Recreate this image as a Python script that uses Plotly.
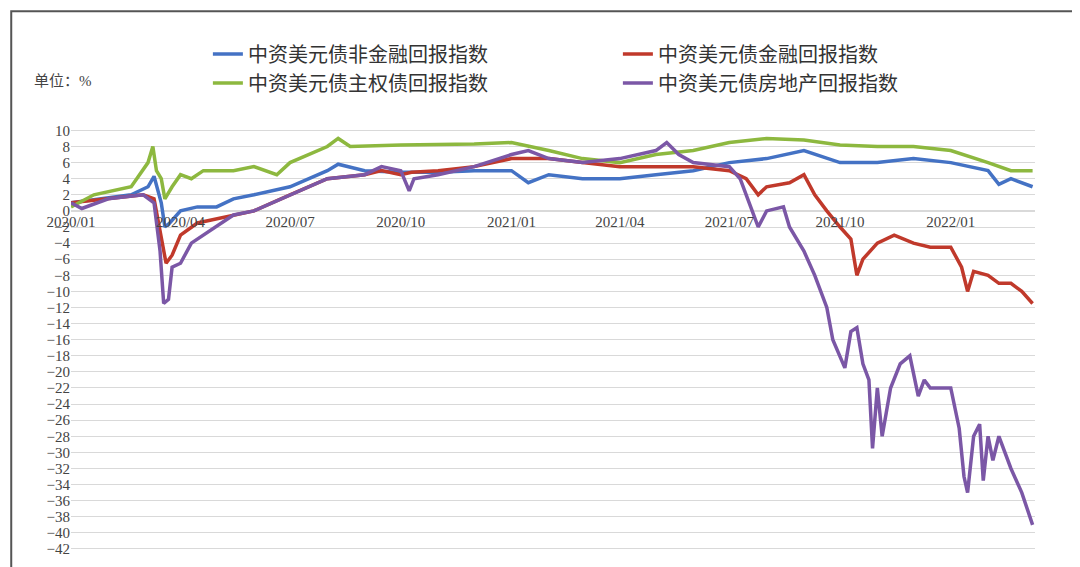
import plotly.graph_objects as go

names = ["中资美元债非金融回报指数", "中资美元债金融回报指数", "中资美元债主权债回报指数", "中资美元债房地产回报指数"]
colors = ["#4472C4", "#C0392B", "#8DB83F", "#7B57A6"]

blue_x = ["2020-01-01","2020-02-20","2020-03-05","2020-03-10","2020-03-16","2020-03-19","2020-03-23","2020-04-01","2020-04-15","2020-05-01","2020-05-15","2020-06-01","2020-07-01","2020-08-01","2020-08-10","2020-09-01","2020-10-01","2020-11-01","2020-12-01","2021-01-01","2021-01-15","2021-02-01","2021-03-01","2021-04-01","2021-05-01","2021-06-01","2021-07-01","2021-08-01","2021-09-01","2021-10-01","2021-11-01","2021-12-01","2022-01-01","2022-02-01","2022-02-10","2022-02-20","2022-03-10"]
blue_y = [1,2,3,4.3,1,-2,-1.5,0,0.5,0.5,1.5,2,3,5,5.8,5,4.8,4.8,5,5,3.5,4.5,4,4,4.5,5,6,6.5,7.5,6,6,6.5,6,5,3.3,4,3]

red_x = ["2020-01-01","2020-03-01","2020-03-10","2020-03-16","2020-03-20","2020-03-25","2020-04-01","2020-04-15","2020-05-01","2020-06-01","2020-07-01","2020-08-01","2020-09-01","2020-09-15","2020-10-01","2020-10-10","2020-11-01","2020-12-01","2021-01-01","2021-02-01","2021-03-01","2021-04-01","2021-05-01","2021-06-01","2021-07-01","2021-07-15","2021-07-25","2021-08-01","2021-08-20","2021-09-01","2021-09-10","2021-09-20","2021-10-01","2021-10-10","2021-10-15","2021-10-20","2021-11-01","2021-11-15","2021-12-01","2021-12-15","2022-01-01","2022-01-10","2022-01-15","2022-01-20","2022-02-01","2022-02-10","2022-02-20","2022-03-01","2022-03-10"]
red_y = [1,2,1.5,-3,-6.5,-5.5,-3,-1.5,-1,0,2,4,4.5,5,4.5,4.8,5,5.5,6.5,6.5,6,5.5,5.5,5.5,5,4,2,3,3.5,4.5,2,0,-2,-3.5,-8,-6,-4,-3,-4,-4.5,-4.5,-7,-10,-7.5,-8,-9,-9,-10,-11.5]

green_x = ["2020-01-01","2020-01-20","2020-02-20","2020-03-05","2020-03-09","2020-03-12","2020-03-16","2020-03-19","2020-03-25","2020-04-01","2020-04-10","2020-04-20","2020-05-15","2020-06-01","2020-06-20","2020-07-01","2020-08-01","2020-08-10","2020-08-20","2020-10-01","2020-12-01","2021-01-01","2021-02-01","2021-03-01","2021-04-01","2021-05-01","2021-06-01","2021-07-01","2021-08-01","2021-09-01","2021-10-01","2021-11-01","2021-12-01","2022-01-01","2022-02-01","2022-02-10","2022-02-20","2022-03-10"]
green_y = [0.5,2,3,6,8,5,4,1.5,3,4.5,4,5,5,5.5,4.5,6,8,9,8,8.2,8.3,8.5,7.5,6.5,6,7,7.5,8.5,9,8.8,8.2,8,8,7.5,6,5.5,5,5]

purple_x = ["2020-01-01","2020-01-10","2020-02-01","2020-03-01","2020-03-10","2020-03-15","2020-03-18","2020-03-22","2020-03-25","2020-04-01","2020-04-10","2020-04-20","2020-05-01","2020-05-15","2020-06-01","2020-07-01","2020-08-01","2020-09-01","2020-09-15","2020-10-01","2020-10-08","2020-10-12","2020-11-01","2020-12-01","2021-01-01","2021-01-15","2021-02-01","2021-03-01","2021-04-01","2021-05-01","2021-05-10","2021-05-20","2021-06-01","2021-07-01","2021-07-10","2021-07-20","2021-07-25","2021-08-01","2021-08-15","2021-08-20","2021-09-01","2021-09-10","2021-09-20","2021-09-25","2021-10-01","2021-10-05","2021-10-10","2021-10-15","2021-10-20","2021-10-25","2021-10-28","2021-11-01","2021-11-05","2021-11-12","2021-11-20","2021-11-28","2021-12-05","2021-12-10","2021-12-15","2022-01-01","2022-01-08","2022-01-12","2022-01-15","2022-01-20","2022-01-25","2022-01-28","2022-02-01","2022-02-05","2022-02-10","2022-02-20","2022-03-01","2022-03-10"]
purple_y = [1,0.3,1.5,2,1,-5,-11.5,-11,-7,-6.5,-4,-3,-2,-0.5,0,2,4,4.5,5.5,5,2.5,4,4.5,5.5,7,7.5,6.5,6,6.5,7.5,8.5,7,6,5.5,4,0,-2,0,0.5,-2,-5,-8,-12,-16,-18,-19.5,-15,-14.5,-19,-21,-29.5,-22,-28,-22,-19,-18,-23,-21,-22,-22,-27,-33,-35,-28,-26.5,-33.5,-28,-31,-28,-32,-35,-39]

tick_vals = ["2020-01-01","2020-04-01","2020-07-01","2020-10-01","2021-01-01","2021-04-01","2021-07-01","2021-10-01","2022-01-01"]
tick_text = ["2020/01","2020/04","2020/07","2020/10","2021/01","2021/04","2021/07","2021/10","2022/01"]

fig = go.Figure()
for n, c, xs, ys in [(names[0], colors[0], blue_x, blue_y), (names[1], colors[1], red_x, red_y),
                     (names[2], colors[2], green_x, green_y), (names[3], colors[3], purple_x, purple_y)]:
    fig.add_trace(go.Scatter(x=xs, y=ys, name=n, mode="lines", line=dict(color=c, width=3.5)))

sf = "Liberation Serif, Noto Sans CJK SC"
fig.update_layout(
    width=1080, height=567, paper_bgcolor="white", plot_bgcolor="white",
    margin=dict(l=63, r=53, t=120, b=22, autoexpand=False),
    font=dict(family=sf, color="#444", size=15),
    legend=dict(orientation="h", x=0.142, y=1.22, xanchor="left", yanchor="top",
                entrywidth=365, font=dict(size=20, color="#333"), traceorder="normal"),
    xaxis=dict(type="date", range=["2020-01-01", "2022-03-12"], tickvals=tick_vals, ticktext=tick_text,
               showgrid=False, anchor="free", position=42.5/52.8, showline=False, ticks="",
               tickfont=dict(size=15, color="#444"), automargin=False),
    yaxis=dict(range=[-42.5, 10.3], dtick=2, tick0=0, gridcolor="#D9D9D9", zeroline=True,
               zerolinecolor="#D9D9D9", tickfont=dict(size=15, color="#444"), showline=False,
               automargin=False),
    annotations=[dict(text="单位：%", x=-0.04, y=1.135, xref="paper", yref="paper", showarrow=False,
                      xanchor="left", font=dict(size=15, color="#444"))],
    shapes=[dict(type="rect", xref="paper", yref="paper", x0=-0.062, x1=1.051, y0=-0.042, y1=1.275,
                 line=dict(color="#555", width=2))],
)
fig.write_html("out.html")
